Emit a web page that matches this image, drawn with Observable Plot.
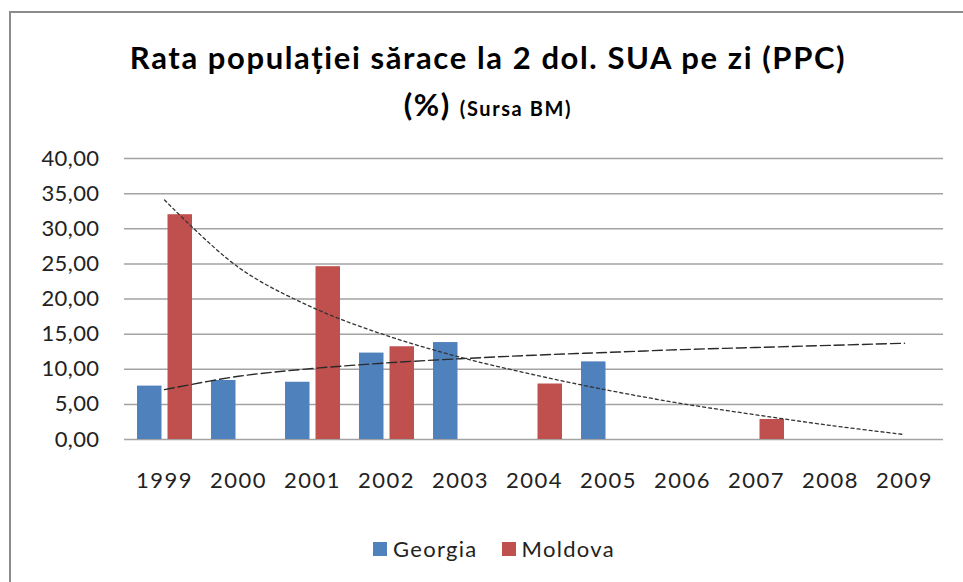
<!DOCTYPE html>
<html>
<head>
<meta charset="utf-8">
<script src="https://cdn.jsdelivr.net/npm/d3@7"></script>
<script src="https://cdn.jsdelivr.net/npm/@observablehq/plot@0.6"></script>
<style>
  html, body { margin: 0; padding: 0; background: #fff; overflow: hidden; width: 963px; height: 582px; }
  #frame { position: absolute; left: 9px; top: 11px; width: 1200px; height: 1000px; border-top: 2px solid #8c8c8c; border-left: 2px solid #8c8c8c; }
  .title { position: absolute; left: 0; width: 976px; text-align: center; font-family: Lato, "Open Sans", sans-serif; font-weight: 700; color: #000; white-space: nowrap; }
  #chart { position: absolute; left: 0; top: 140px; }
  #chart g[aria-label="x-axis tick label"] text { letter-spacing: 1.5px; }
  #chart g[aria-label="y-axis tick label"] text { letter-spacing: 0.4px; }
  #legend { position: absolute; top: 535px; left: 373px; font-family: Lato, sans-serif; font-size: 22px; letter-spacing: 1.3px; color: #222; display: flex; align-items: center; }
  .sw { display: inline-block; width: 14px; height: 14px; margin-right: 6px; }
</style>
</head>
<body>
<div id="frame"></div>
<div class="title" style="top:38px; font-size:31px; letter-spacing:1.6px;">Rata populației sărace la 2 dol. SUA pe zi (PPC)</div>
<div class="title" style="top:85px; font-size:31px; letter-spacing:1.5px;">(%) <span style="font-size:20px; letter-spacing:1.6px;">(Sursa BM)</span></div>
<div id="chart"></div>
<div id="legend"></div>
<script>
const years = ["1999","2000","2001","2002","2003","2004","2005","2006","2007","2008","2009"];
const georgia = [7.6, 8.4, 8.15, 12.3, 13.8, null, 11.05, null, null, null, null];
const moldova = [32.0, null, 24.6, 13.2, null, 7.9, null, null, 2.85, null, null];
// trend lines
const georgiaTrend = [7.1, 9.0, 10.1, 10.9, 11.5, 12.0, 12.4, 12.8, 13.1, 13.4, 13.7];
const moldovaTrend = [34.1, 24.5, 18.8, 14.8, 11.7, 9.2, 7.0, 5.1, 3.5, 2.0, 0.7];
const yTicks = [0, 5, 10, 15, 20, 25, 30, 35, 40];
const seriesNames = ["Georgia", "Moldova"];
const seriesColors = ["#4F81BD", "#C0504D"];

const gData = years.map((y, i) => ({year: y, value: georgia[i]})).filter(d => d.value != null);
const mData = years.map((y, i) => ({year: y, value: moldova[i]})).filter(d => d.value != null);
const gTrend = years.map((y, i) => ({year: y, value: georgiaTrend[i]}));
const mTrend = years.map((y, i) => ({year: y, value: moldovaTrend[i]}));

const fmt = v => d3.format(".2f")(v).replace(".", ",");

const plot = Plot.plot({
  width: 963,
  height: 360,
  marginTop: 18,
  marginBottom: 61,
  marginLeft: 124,
  marginRight: 20,
  style: {fontFamily: "Lato, 'Open Sans', sans-serif", fontSize: "22px", color: "#222", background: "transparent"},
  x: {domain: years, padding: 0},
  y: {domain: [0, 40]},
  marks: [
    Plot.ruleY(yTicks, {stroke: "#a3a3a3", strokeWidth: 1.5}),
    Plot.barY(gData, {x: "year", y: "value", fill: seriesColors[0], insetLeft: 10, insetRight: 39.5}),
    Plot.barY(mData, {x: "year", y: "value", fill: seriesColors[1], insetLeft: 40.5, insetRight: 9}),
    Plot.line(gTrend, {x: "year", y: "value", stroke: "#2a2a2a", strokeWidth: 1.4, strokeDasharray: "10,4", curve: "catmull-rom"}),
    Plot.line(mTrend, {x: "year", y: "value", stroke: "#333", strokeWidth: 1.3, strokeDasharray: "3,3", curve: "catmull-rom"}),
    Plot.axisY({ticks: yTicks, tickFormat: fmt, tickSize: 0, tickPadding: 25, label: null}),
    Plot.axisX({tickSize: 0, tickPadding: 33, label: null})
  ]
});
document.getElementById("chart").appendChild(plot);

const legend = document.getElementById("legend");
seriesNames.forEach((name, i) => {
  const item = document.createElement("span");
  item.style.display = "inline-flex";
  item.style.alignItems = "center";
  item.style.marginRight = i === 0 ? "24px" : "0";
  const sw = document.createElement("span");
  sw.className = "sw";
  sw.style.background = seriesColors[i];
  item.appendChild(sw);
  item.appendChild(document.createTextNode(name));
  legend.appendChild(item);
});
</script>
</body>
</html>
